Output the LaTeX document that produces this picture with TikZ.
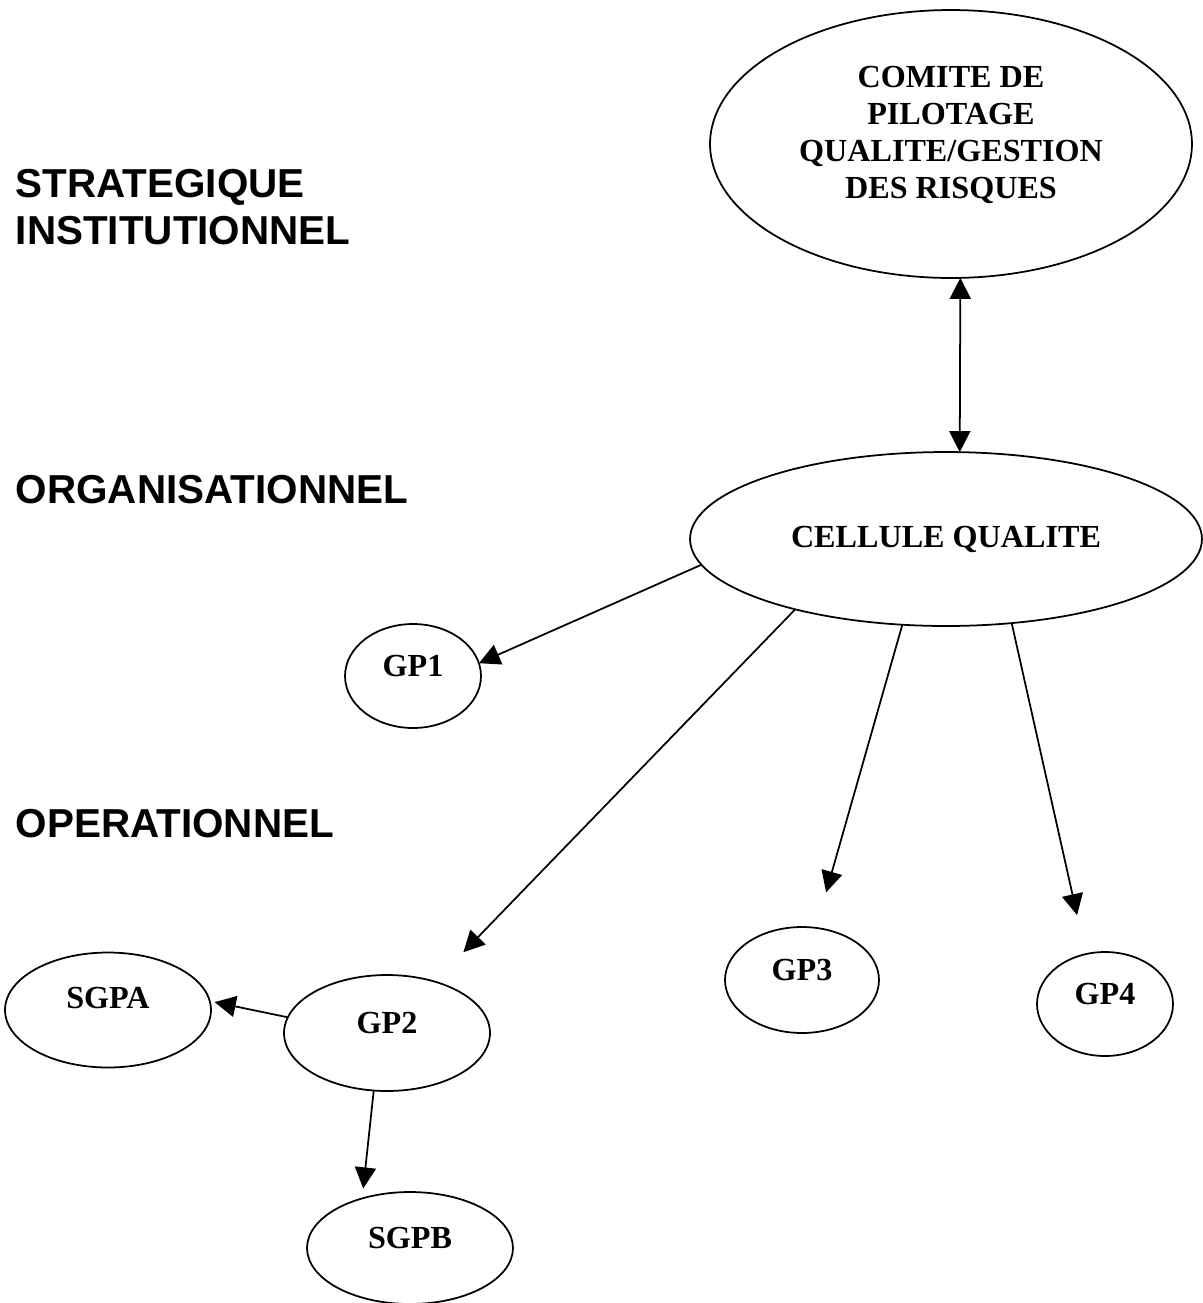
\documentclass[tikz,border=0pt]{standalone}
\usepackage{fontspec}
\setmainfont{Liberation Serif}
\newfontfamily\levelfont{Liberation Sans}
\usetikzlibrary{shapes.geometric}
\usetikzlibrary{arrows.meta}

\begin{document}
\begin{tikzpicture}[
        x = 0.02cm, y = -0.02cm, % one unit per pixel, y going down
        > = {Triangle[length=12pt, width=12pt]}, % arrow head style
        line width = 1pt, % line style
        bubble/.style = {ellipse, draw, outer sep=0pt, inner sep=0pt,
                         font=\fontsize{18.3pt}{21pt}\selectfont\bfseries},
        subbubble/.style = {bubble, text depth=11pt}, % text sits a bit high
        level/.style = {inner sep=0pt, align=left,
                        font=\levelfont\fontsize{23pt}{26.6pt}\selectfont\bfseries}
        ]
  \useasboundingbox (0,0) rectangle (1203,1303);

  % levels on the left
  \node[level, anchor=west] (strat) at (15,207) {STRATEGIQUE\\INSTITUTIONNEL};
  \node[level, anchor=base west] (orga) at (15,503) {ORGANISATIONNEL};
  \node[level, anchor=base west] (oper) at (15,837) {OPERATIONNEL};

  % groups
  \node[bubble, align=center, text depth=13pt,
        minimum width=9.64cm, minimum height=5.36cm] (copil) at (951,144)
        {COMITE DE\\PILOTAGE\\QUALITE/GESTION\\DES RISQUES};
  \node[bubble, minimum width=10.24cm, minimum height=3.48cm] (cq) at (946,539) {CELLULE QUALITE};

  \node[subbubble, minimum width=2.72cm, minimum height=2.08cm] (gp1) at (413,676) {GP1};
  \node[subbubble, minimum width=4.12cm, minimum height=2.32cm] (gp2) at (387,1033) {GP2};
  \node[subbubble, minimum width=3.08cm, minimum height=2.12cm] (gp3) at (802,980) {GP3};
  \node[subbubble, minimum width=2.72cm, minimum height=2.08cm] (gp4) at (1105,1004) {GP4};
  \node[subbubble, text depth=14pt, minimum width=4.12cm, minimum height=2.30cm] (sgpa) at (108,1010) {SGPA};
  \node[subbubble, minimum width=4.12cm, minimum height=2.24cm] (sgpb) at (410,1248) {SGPB};

  % links
  \draw[<->] (copil.274) -- (cq.81);
  \draw[->] (cq.186) -- (gp1.11);
  \draw[->, shorten >=0.82cm] (cq.205) -- (gp2.47);
  \draw[->, shorten >=0.74cm] (cq.243) -- (gp3.75);
  \draw[->, shorten >=0.8cm] (cq.308) -- (gp4.111);
  \draw[->, shorten >=0.1cm] (gp2.171) -- (sgpa.5);
  \draw[->, shorten >=0.2cm] (gp2.257) -- (sgpb.134);

\end{tikzpicture}
\end{document}
